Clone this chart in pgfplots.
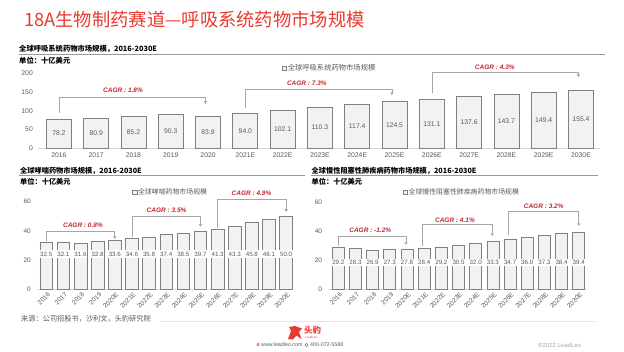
\documentclass[border=0pt]{standalone}
\usepackage{pgfplots}
\pgfplotsset{compat=1.18}
\usepackage{fontspec}
\setmainfont{Liberation Sans}
\newfontfamily\cjk{Noto Sans CJK SC}
\usetikzlibrary{arrows.meta}
\definecolor{titlered}{HTML}{E83A30}
\definecolor{cagrred}{HTML}{C0282D}
\definecolor{txtgray}{HTML}{595959}
\definecolor{barfill}{HTML}{F2F2F2}
\definecolor{bardraw}{HTML}{808080}
\definecolor{brk}{HTML}{A6A6A6}
\pgfplotsset{
  myaxis/.style={
    scale only axis, anchor=south west, clip=false,
    axis x line*=bottom, axis y line*=left,
    x axis line style={-, draw=black!15, line width=0.6pt},
    y axis line style={draw=none},
    major tick length=0pt,
    tick label style={text=txtgray},
    /pgf/number format/assume math mode=true,
    xtick={0,...,14},
    ymin=0,
    legend style={draw=none, fill=none, inner sep=0pt, text=txtgray, anchor=center,
      nodes={inner xsep=1pt, inner ysep=0pt}},
  },
  sqlegend/.style={legend image code/.code={\draw[draw=bardraw,fill=barfill,line width=0.5pt] (0pt,-2.2pt) rectangle (4.4pt,2.2pt);}},
}
\tikzset{
  bk/.style={draw=brk, line width=0.6pt, -{Triangle[width=3.2pt,length=2.6pt]}},
  cagr/.style={font=\bfseries\itshape\fontsize{6.5}{8}\selectfont, text=cagrred, inner sep=0pt},
}
\begin{document}
\begin{tikzpicture}
\begin{scope}[x=1pt,y=1pt]
\path (0,0) rectangle (624,-351);
% header
\node[anchor=west, inner sep=0pt, font=\cjk\fontsize{18.3}{20}\selectfont, text=titlered] at (24,-19) {18A生物制药赛道—呼吸系统药物市场规模};
\node[anchor=west, inner sep=0pt, font=\cjk\bfseries\fontsize{7.3}{8}\selectfont] at (19,-49.3) {全球呼吸系统药物市场规模，2016-2030E};
\draw[black!40, line width=0.5pt] (19,-53.8) -- (605,-53.8);
\node[anchor=west, inner sep=0pt, font=\cjk\bfseries\fontsize{7.3}{8}\selectfont] at (19,-60.7) {单位：十亿美元};

\node[anchor=west, inner sep=0pt, font=\cjk\bfseries\fontsize{7.2}{8}\selectfont] at (20,-171) {全球哮喘药物市场规模，2016-2030E};
\draw[black!40, line width=0.5pt] (19,-175.3) -- (305,-175.3);
\node[anchor=west, inner sep=0pt, font=\cjk\bfseries\fontsize{7.2}{8}\selectfont] at (20,-181.7) {单位：十亿美元};

\node[anchor=west, inner sep=0pt, font=\cjk\bfseries\fontsize{7.2}{8}\selectfont] at (311.5,-171) {全球慢性阻塞性肺疾病药物市场规模，2016-2030E};
\draw[black!40, line width=0.5pt] (311,-175.3) -- (598,-175.3);
\node[anchor=west, inner sep=0pt, font=\cjk\bfseries\fontsize{7.2}{8}\selectfont] at (311.5,-182) {单位：十亿美元};

% footer
\node[anchor=west, inner sep=0pt, font=\cjk\fontsize{7.2}{8}\selectfont, text=txtgray] at (21,-318.5) {来源：公司招股书，沙利文，头豹研究院};
\draw[black!10, line width=0.5pt] (160,-321.5) -- (596,-321.5);
\fill[titlered] (288,-339) -- (291,-331) -- (289,-327) -- (295,-326) -- (302,-328.5) -- (299,-332) -- (301.5,-339) -- (296.5,-335.5) -- (293,-339.5) -- cycle;
\node[anchor=west, inner sep=0pt, font=\cjk\bfseries\fontsize{8.5}{10}\selectfont, text=titlered] at (304,-330.5) {头豹};
\node[anchor=west, inner sep=0pt, font=\fontsize{3}{3}\selectfont, text=titlered] at (305.5,-337.5) {LeadLeo};
\node[anchor=west, inner sep=0pt, font=\bfseries\fontsize{5.5}{6}\selectfont, text=titlered] at (256.5,-345) {e};
\node[anchor=west, inner sep=0pt, font=\fontsize{5.3}{6}\selectfont, text=txtgray] at (261,-345) {www.leadleo.com};
\draw[txtgray, line width=0.4pt] (306.5,-345) circle (1.6pt);
\node[anchor=west, inner sep=0pt, font=\fontsize{5.3}{6}\selectfont, text=txtgray] at (310,-345) {400-072-5588};
\node[anchor=west, inner sep=0pt, font=\fontsize{6}{7}\selectfont, text=black!35] at (538,-345) {\textcopyright 2022 LeadLeo};
\end{scope}

% top chart
\begin{axis}[myaxis,
  at={(38pt,-148.3pt)}, width=562pt, height=75pt,
  xmin=-0.56, xmax=14.51, ymax=200,
  ytick={0,50,100,150,200},
  xticklabels={2016,2017,2018,2019,2020,2021E,2022E,2023E,2024E,2025E,2026E,2027E,2028E,2029E,2030E},
  tick label style={font=\fontsize{6.8}{8}\selectfont},
  yticklabel style={inner sep=0pt, xshift=-5pt},
  xticklabel style={inner sep=0pt, yshift=-4.4pt},
  legend style={at={(0.518,1.071)}, font=\cjk\fontsize{7.3}{8}\selectfont},
]
\addplot[ybar, sqlegend, bar width=25pt, fill=barfill, draw=bardraw, line width=0.7pt,
  point meta=y,
  nodes near coords={\pgfmathprintnumber[fixed,fixed zerofill,precision=1]{\pgfplotspointmeta}},
  visualization depends on={y \as \rawy},
  nodes near coords style={anchor=center, font=\fontsize{6.8}{8}\selectfont, text=txtgray, shift={(axis direction cs:0,-\rawy/2)}},
] coordinates {(0,78.2) (1,80.9) (2,85.2) (3,90.3) (4,83.9) (5,94.0) (6,102.1) (7,110.3) (8,117.4) (9,124.5) (10,131.1) (11,137.6) (12,143.7) (13,149.4) (14,155.4)};
\addlegendentry{全球呼吸系统药物市场规模}
\draw[bk] (axis cs:0,94) |- (axis cs:3.93,136) -- (axis cs:3.93,118);
\node[cagr] at (axis cs:1.72,155) {CAGR : 1.8\%};
\draw[bk] (axis cs:5,107.5) |- (axis cs:8.93,157) -- (axis cs:8.93,142);
\node[cagr] at (axis cs:6.65,173) {CAGR : 7.3\%};
\draw[bk] (axis cs:10,146.7) |- (axis cs:13.93,201.6) -- (axis cs:13.93,190);
\node[cagr] at (axis cs:11.69,216) {CAGR : 4.3\%};
\end{axis}

% bottom-left chart
\begin{axis}[myaxis,
  at={(37pt,-289.3pt)}, width=256pt, height=87.6pt,
  xmin=-0.54, xmax=14.4, ymax=60,
  ytick={0,20,40,60},
  xticklabels={2016,2017,2018,2019,2020E,2021E,2022E,2023E,2024E,2025E,2026E,2027E,2028E,2029E,2030E},
  tick label style={font=\fontsize{6.5}{8}\selectfont},
  yticklabel style={inner sep=0pt, xshift=-6pt},
  xticklabel style={xshift=1pt, yshift=-2.5pt, rotate=45, anchor=north east, inner sep=0pt},
  legend style={at={(0.52,1.107)}, font=\cjk\fontsize{6.9}{8}\selectfont},
]
\addplot[ybar, sqlegend, bar width=12.7pt, fill=barfill, draw=bardraw, line width=0.7pt,
  point meta=y,
  nodes near coords={\pgfmathprintnumber[fixed,fixed zerofill,precision=1]{\pgfplotspointmeta}},
  visualization depends on={y \as \rawy},
  nodes near coords style={anchor=center, fill=white, inner xsep=0.8pt, inner ysep=1.5pt, font=\fontsize{6.2}{7}\selectfont, text=txtgray, shift={(axis direction cs:0,24.2-\rawy)}},
] coordinates {(0,32.5) (1,32.1) (2,31.6) (3,32.8) (4,33.6) (5,34.6) (6,35.8) (7,37.4) (8,38.5) (9,39.7) (10,41.3) (11,43.3) (12,45.8) (13,48.1) (14,50.0)};
\addlegendentry{全球哮喘药物市场规模}
\draw[bk] (axis cs:0,33) |- (axis cs:4,39.9) -- (axis cs:4,34.4);
\node[cagr] at (axis cs:2.14,43.6) {CAGR : 0.8\%};
\draw[bk] (axis cs:5,35.6) |- (axis cs:9,50.2) -- (axis cs:9,42.9);
\node[cagr] at (axis cs:7.02,54.3) {CAGR : 3.5\%};
\draw[bk] (axis cs:10,42.2) |- (axis cs:14,61.8) -- (axis cs:14,53.1);
\node[cagr] at (axis cs:11.98,65.7) {CAGR : 4.9\%};
\end{axis}

% bottom-right chart
\begin{axis}[myaxis,
  at={(328pt,-289.3pt)}, width=259pt, height=87pt,
  xmin=-0.6, xmax=14.48, ymax=60,
  ytick={0,20,40,60},
  xticklabels={2016,2017,2018,2019,2020E,2021E,2022E,2023E,2024E,2025E,2026E,2027E,2028E,2029E,2030E},
  tick label style={font=\fontsize{6.5}{8}\selectfont},
  yticklabel style={inner sep=0pt, xshift=-5.7pt},
  xticklabel style={xshift=1pt, yshift=-2.5pt, rotate=45, anchor=north east, inner sep=0pt},
  legend style={at={(0.515,1.115)}, font=\cjk\fontsize{6.9}{8}\selectfont},
]
\addplot[ybar, sqlegend, bar width=12pt, fill=barfill, draw=bardraw, line width=0.7pt,
  point meta=y,
  nodes near coords={\pgfmathprintnumber[fixed,fixed zerofill,precision=1]{\pgfplotspointmeta}},
  visualization depends on={y \as \rawy},
  nodes near coords style={anchor=center, fill=white, inner xsep=0.8pt, inner ysep=1.5pt, font=\fontsize{6.2}{7}\selectfont, text=txtgray, shift={(axis direction cs:0,18.3-\rawy)}},
] coordinates {(0,29.2) (1,28.3) (2,26.9) (3,27.3) (4,27.8) (5,28.4) (6,29.2) (7,30.5) (8,32.0) (9,33.3) (10,34.7) (11,36.0) (12,37.3) (13,38.4) (14,39.4)};
\addlegendentry{全球慢性阻塞性肺疾病药物市场规模}
\draw[bk] (axis cs:0,29.9) |- (axis cs:3.94,36.8) -- (axis cs:3.94,30.6);
\node[cagr] at (axis cs:1.86,40.9) {CAGR : -1.2\%};
\draw[bk] (axis cs:4.9,29.9) |- (axis cs:8.96,45) -- (axis cs:8.96,36.8);
\node[cagr] at (axis cs:6.79,47.8) {CAGR : 4.1\%};
\draw[bk] (axis cs:9.9,37.4) |- (axis cs:14,53.5) -- (axis cs:14,43.7);
\node[cagr] at (axis cs:11.96,57.4) {CAGR : 3.2\%};
\end{axis}
\end{tikzpicture}
\end{document}
